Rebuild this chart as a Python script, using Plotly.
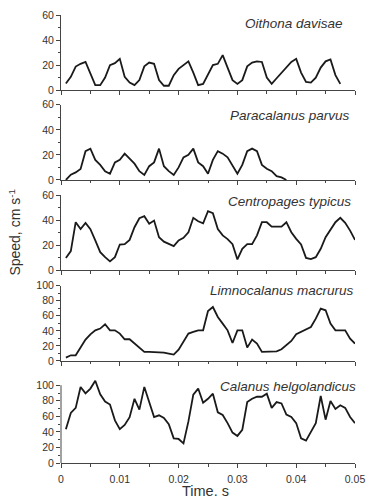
import plotly.graph_objects as go

# Frame times (ms), 1200 frames per second
TIME_MS = [0.83, 1.67, 2.50, 3.33, 4.17, 5.00, 5.83, 6.67, 7.50, 8.33,
           9.17, 10.00, 10.83, 11.67, 12.50, 13.33, 14.17, 15.00, 15.83, 16.67,
           17.50, 18.33, 19.17, 20.00, 20.83, 21.67, 22.50, 23.33, 24.17, 25.00,
           25.83, 26.67, 27.50, 28.33, 29.17, 30.00, 30.83, 31.67, 32.50, 33.33,
           34.17, 35.00, 35.83, 36.67, 37.50, 38.33, 39.17, 40.00, 40.83, 41.67,
           42.50, 43.33, 44.17, 45.00, 45.83, 46.67, 47.50, 48.33, 49.17, 50.00]

SPECIES = ["Oithona davisae", "Paracalanus parvus", "Centropages typicus",
           "Limnocalanus macrurus", "Calanus helgolandicus"]

oithona = [5.3, 10.6, 18.8, 21, 22.5, 13, 4, 4, 10, 20,
           21.5, 25, 10.6, 6, 4, 8, 19, 22, 21, 8,
           3.5, 3.5, 12, 17, 20, 23, 14, 4, 5, 13,
           20, 21, 28, 18, 8, 5, 8, 19, 22, 23,
           22.5, 10, 5, 9.5, 14, 18, 22.5, 25, 14, 6.6,
           6, 10, 18, 23, 24.5, 12, 5]

paracalanus = [0, 4.2, 6, 8.8, 23, 25, 16, 12, 7, 5,
               14, 16, 21, 17, 13, 7, 4, 11, 14, 25,
               11, 7, 4, 10, 18, 20, 25, 14, 11, 5,
               16, 23, 21, 18, 11, 5, 12, 23, 25, 23,
               12, 9, 7, 3, 2, 0]

centropages = [10, 15.4, 38.5, 33, 38, 33, 24, 14.6, 10.6, 7.2,
               10.6, 20.7, 21, 24.4, 34.5, 41.7, 43.3, 37.2, 39.8, 26.5,
               23, 21, 19.4, 24, 26, 30.5, 42, 39.3, 37.7, 47.3,
               45.7, 33, 28, 25, 21, 8.8, 17.3, 21, 21, 28,
               38.5, 38.5, 35, 35, 35, 38.5, 30.5, 25.2, 20.7, 10,
               9, 10.6, 17.3, 26.5, 33, 38.5, 42, 38, 31.8, 24.4]

limnocalanus = [4.4, 7.5, 7.5, 17.7, 28.3, 35.4, 40.7, 43, 48.7, 40.7,
                40.7, 36.3, 28.8, 28.8, 23, 17.7, 12, 12, 12, 12,
                11, 9.7, 8.4, 15, 26.5, 36.3, 38.5, 40.7, 40.7, 66.4,
                71.7, 58.4, 49.6, 40.7, 23.9, 40.7, 40.7, 17.7, 28.3, 23,
                12, 12, 12, 12.8, 15.5, 20.8, 26.5, 35.4, 38.5, 41.6,
                45.1, 56.2, 69.5, 67.3, 49.6, 40.7, 40.7, 40.7, 29.6, 23]

calanus = [43.5, 64.3, 70.9, 97.8, 89.6, 95.7, 105.7, 88.3, 79, 75.2,
           54.8, 43.5, 49, 59, 82.6, 68.7, 97.8, 77.4, 59, 61.3,
           57.8, 50, 31.7, 30.9, 25.2, 53.5, 87.8, 95.7, 77.4, 82.6,
           89.1, 65.2, 61.7, 51.3, 39.1, 34.8, 42.6, 78.3, 82.6, 85.2,
           85.2, 89.1, 70.9, 78.3, 76.5, 62.2, 59.1, 51.3, 31.7, 28.7,
           39.1, 51.3, 86.1, 55.7, 79.6, 69.6, 74.3, 70.9, 59.1, 51.3]

SERIES = [oithona, paracalanus, centropages, limnocalanus, calanus]
Y_MAX = [60, 60, 60, 100, 108]
Y_AXIS_TOP = [60, 60, 60, 100, 100]

X_TICKS = [0, 0.01, 0.02, 0.03, 0.04, 0.05]
X_TICK_TEXT = ["0", "0.01", "0.02", "0.03", "0.04", "0.05"]

# layout (styles)
DOMAINS = [[0.8323, 1.0], [0.6318, 0.7996], [0.4298, 0.5976], [0.2278, 0.3958], [0.0, 0.1875]]
LABEL_POS = [(0.967, 0.9806), (0.990, 0.775), (0.993, 0.5842), (1.003, 0.3853), (1.010, 0.1699)]
AX = "#444444"
TXT = "#333333"
FONT = "Liberation Sans, Arial, sans-serif"

fig = go.Figure()
layout = {}
shapes = []
annotations = []
for k, vals in enumerate(SERIES):
    n = "" if k == 0 else str(k + 1)
    last = (k == len(SERIES) - 1)
    fig.add_trace(go.Scatter(
        x=[t / 1000.0 for t in TIME_MS[:len(vals)]], y=vals, mode="lines",
        line=dict(color="#1a1a1a", width=1.8),
        xaxis="x" + n, yaxis="y" + n, showlegend=False, hoverinfo="skip"))
    layout["xaxis" + n] = dict(
        domain=[0, 1], anchor="y" + n, range=[0, 0.05],
        tickmode="array", tickvals=X_TICKS, ticktext=X_TICK_TEXT,
        ticks="outside", ticklen=4, tickwidth=1, tickcolor=AX,
        showline=True, linecolor=AX, linewidth=1, showgrid=False, zeroline=False,
        showticklabels=last, ticklabeloverflow="allow", ticklabelstandoff=2,
        tickfont=dict(family=FONT, size=10.5, color=TXT),
        minor=dict(dtick=0.005, tick0=0, ticks="outside", ticklen=2.5, tickcolor=AX, showgrid=False))
    layout["yaxis" + n] = dict(
        domain=DOMAINS[k], anchor="x" + n, range=[0, Y_MAX[k]],
        dtick=20, tick0=0, ticks="outside", ticklen=4, tickwidth=1, tickcolor=AX,
        showline=not last, linecolor=AX, linewidth=1, showgrid=False, zeroline=False,
        tickfont=dict(family=FONT, size=10.5, color=TXT),
        minor=dict(dtick=10, tick0=0, ticks="outside", ticklen=2.5, tickcolor=AX, showgrid=False))
    if last:
        shapes.append(dict(type="line", xref="x" + n + " domain", yref="y" + n,
                           x0=0, x1=0, y0=0, y1=Y_AXIS_TOP[k],
                           line=dict(color=AX, width=1)))
    annotations.append(dict(
        text="<i>" + SPECIES[k] + "</i>", xref="paper", yref="paper",
        x=LABEL_POS[k][0], y=LABEL_POS[k][1], xanchor="right", yanchor="middle",
        showarrow=False, font=dict(family=FONT, size=13.5, color=TXT)))

annotations.append(dict(
    text="Speed, cm s<sup>-1</sup>", xref="paper", yref="paper",
    x=-0.1595, y=0.5145, xanchor="center", yanchor="middle", textangle=-90,
    showarrow=False, font=dict(family=FONT, size=14, color=TXT)))
annotations.append(dict(
    text="Time. s", xref="paper", yref="paper",
    x=0.4924, y=-0.062, xanchor="center", yanchor="middle",
    showarrow=False, font=dict(family=FONT, size=14.5, color=TXT)))

fig.update_layout(
    width=374, height=498,
    margin=dict(l=61, r=9, t=14, b=35, pad=0),
    paper_bgcolor="white", plot_bgcolor="white",
    shapes=shapes, annotations=annotations,
    **layout)

fig.write_html("out.html")
